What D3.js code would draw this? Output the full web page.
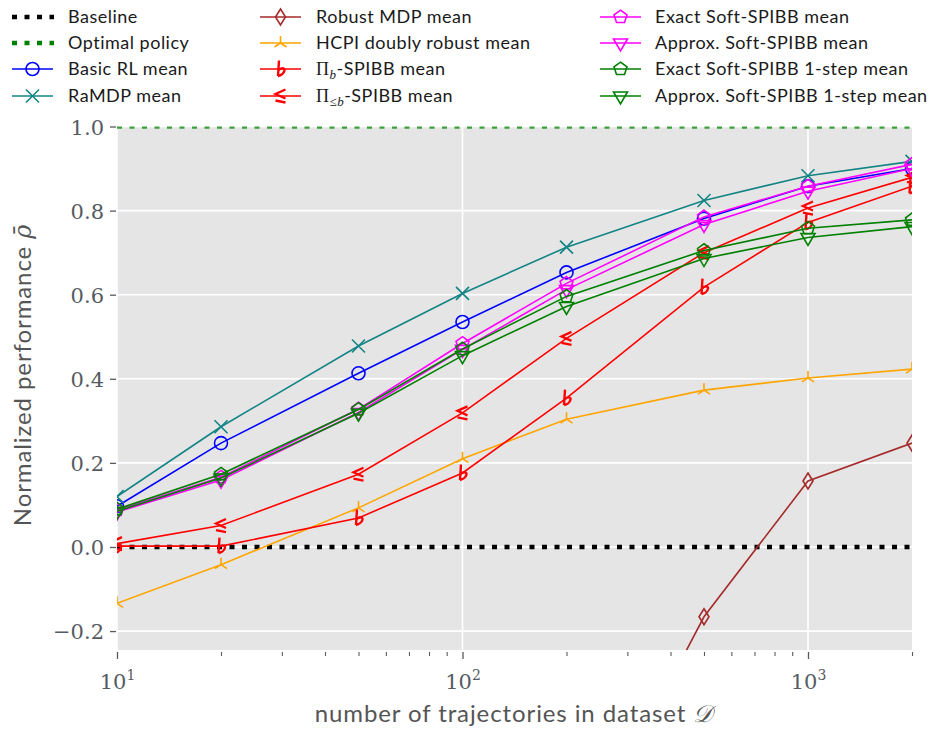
<!DOCTYPE html>
<html>
<head>
<meta charset="utf-8">
<script src="https://cdn.jsdelivr.net/npm/d3@7"></script>
<style>
  html, body { margin: 0; padding: 0; background: #ffffff; }
  svg { display: block; }
</style>
</head>
<body>
<svg id="chart" width="938" height="731"></svg>
<script>
// ---------------- data ----------------
const trajectories = [10, 20, 50, 100, 200, 500, 1000, 2000];
const baseline = [0, 0];
const optimal = [1, 1];
const basicRL    = [0.097, 0.247, 0.413, 0.535, 0.653, 0.781, 0.858, 0.900];
const raMDP      = [0.120, 0.286, 0.478, 0.603, 0.713, 0.824, 0.883, 0.917];
const robustMDP  = [null, null, null, null, -0.79, -0.166, 0.157, 0.247];
const hcpi       = [-0.134, -0.042, 0.093, 0.210, 0.304, 0.373, 0.402, 0.423];
const piB        = [0.002, 0.002, 0.069, 0.176, 0.354, 0.618, 0.772, 0.858];
const piLeqB     = [0.008, 0.051, 0.173, 0.319, 0.496, 0.700, 0.806, 0.879];
const exactSoft  = [0.088, 0.166, 0.328, 0.484, 0.627, 0.785, 0.858, 0.910];
const approxSoft = [0.083, 0.159, 0.320, 0.470, 0.612, 0.767, 0.846, 0.900];
const exact1     = [0.090, 0.173, 0.327, 0.471, 0.596, 0.705, 0.758, 0.778];
const approx1    = [0.085, 0.164, 0.318, 0.455, 0.572, 0.686, 0.736, 0.762];
const yTicks = [-0.2, 0.0, 0.2, 0.4, 0.6, 0.8, 1.0];
const xMajorTicks = [10, 100, 1000];
const xMinorTicks = [20, 30, 40, 50, 60, 70, 80, 90, 200, 300, 400, 500, 600, 700, 800, 900, 2000];

const series = [
  {name: "Basic RL mean",   values: basicRL,    color: "#0000ff", marker: "circle"},
  {name: "RaMDP mean",      values: raMDP,      color: "#138484", marker: "x"},
  {name: "Robust MDP mean", values: robustMDP,  color: "#a52a2a", marker: "thindiamond"},
  {name: "HCPI doubly robust mean", values: hcpi, color: "#ffa500", marker: "tri"},
  {name: "PIB",             values: piB,        color: "#ff0000", marker: "flat"},
  {name: "PILEQB",          values: piLeqB,     color: "#ff0000", marker: "leq"},
  {name: "Exact Soft-SPIBB mean",  values: exactSoft,  color: "#ff00ff", marker: "pentagon"},
  {name: "Approx. Soft-SPIBB mean", values: approxSoft, color: "#ff00ff", marker: "tridown"},
  {name: "Exact Soft-SPIBB 1-step mean",  values: exact1,  color: "#008000", marker: "pentagon"},
  {name: "Approx. Soft-SPIBB 1-step mean", values: approx1, color: "#008000", marker: "tridown"}
];

// ---------------- layout ----------------
const svg = d3.select("#chart");
const L = 117, R = 912, T = 126.5, B = 650;
const x = d3.scaleLog().domain([10, 2000]).range([L, R]);
const y = d3.scaleLinear().domain([-0.245, 1.0]).range([B, T]);
const tickColor = "#555b63";
const serif = "'DejaVu Serif', 'Liberation Serif', serif";
const sans = "Lato, 'Open Sans', sans-serif";

svg.append("rect").attr("x", L).attr("y", T).attr("width", R - L).attr("height", B - T).attr("fill", "#e5e5e5");

svg.append("defs").append("clipPath").attr("id", "clip")
  .append("rect").attr("x", L).attr("y", T).attr("width", R - L).attr("height", B - T);

// grid
const grid = svg.append("g");
grid.selectAll("line.gy").data(yTicks).join("line")
  .attr("x1", L).attr("x2", R).attr("y1", d => y(d)).attr("y2", d => y(d))
  .attr("stroke", "#ffffff").attr("stroke-width", 1.6);
grid.selectAll("line.gx").data(xMajorTicks).join("line")
  .attr("y1", T).attr("y2", B).attr("x1", d => x(d)).attr("x2", d => x(d))
  .attr("stroke", "#ffffff").attr("stroke-width", 1.6);

// axes (tick marks + labels)
const yAxis = d3.axisLeft(y).tickValues(yTicks).tickSize(6).tickPadding(6)
  .tickFormat(d => d < 0 ? "\u2212" + Math.abs(d).toFixed(1) : d.toFixed(1));
const gy = svg.append("g").attr("transform", `translate(${L - 1},0)`).call(yAxis);
gy.select(".domain").remove();
gy.selectAll(".tick line").attr("stroke", tickColor).attr("stroke-width", 1.3);
gy.selectAll(".tick text").attr("fill", tickColor)
  .style("font-family", serif).style("font-size", "21px")
  .attr("dy", "0.36em");

const xAxis = d3.axisBottom(x).tickValues(xMajorTicks).tickSize(7).tickFormat(() => "");
const gx = svg.append("g").attr("transform", `translate(0,${B + 2})`).call(xAxis);
gx.select(".domain").remove();
gx.selectAll(".tick line").attr("stroke", tickColor).attr("stroke-width", 1.3);
gx.selectAll(".tick text").remove();
gx.selectAll(".tick").append("text")
  .attr("y", 37).attr("fill", tickColor).attr("text-anchor", "middle")
  .style("font-family", serif).style("font-size", "21px")
  .each(function(d) {
    const t = d3.select(this);
    t.append("tspan").text("10");
    t.append("tspan").attr("dy", -9).style("font-size", "14px").text(String(Math.round(Math.log10(d))));
  });
const xMinor = d3.axisBottom(x).tickValues(xMinorTicks).tickSize(4).tickFormat(() => "");
const gxm = svg.append("g").attr("transform", `translate(0,${B + 2})`).call(xMinor);
gxm.select(".domain").remove();
gxm.selectAll(".tick line").attr("stroke", tickColor).attr("stroke-width", 1.1);

// axis labels
svg.append("text")
  .attr("transform", `translate(31,375) rotate(-90)`)
  .attr("text-anchor", "middle").attr("fill", "#555555")
  .style("font-family", sans).style("font-size", "24px").style("letter-spacing", "0.9px")
  .call(t => {
    t.append("tspan").text("Normalized performance ");
    t.append("tspan").style("font-family", serif).style("font-style", "italic").text("\u03C1\u0304");
  });
svg.append("text")
  .attr("x", 514).attr("y", 722)
  .attr("text-anchor", "middle").attr("fill", "#555555")
  .style("font-family", sans).style("font-size", "24px").style("letter-spacing", "0.9px")
  .call(t => {
    t.append("tspan").text("number of trajectories in dataset ");
    t.append("tspan").style("font-family", serif).style("font-style", "italic").text("\uD835\uDC9F");
  });

// ---------------- markers ----------------
function drawMarker(g, type, cx, cy, color) {
  const s = g.append("g").attr("transform", `translate(${cx},${cy})`);
  const st = (sel, w) => sel.attr("fill", "none").attr("stroke", color).attr("stroke-width", w || 1.6);
  if (type === "circle") {
    st(s.append("circle").attr("r", 6.5));
  } else if (type === "x") {
    st(s.append("path").attr("d", "M-6.5,-6.5L6.5,6.5M-6.5,6.5L6.5,-6.5"));
  } else if (type === "thindiamond") {
    st(s.append("path").attr("d", "M0,-8L5,0L0,8L-5,0Z"));
  } else if (type === "tri") {
    st(s.append("path").attr("d", "M0,0L0,-7M0,0L6,4M0,0L-6,4"));
  } else if (type === "pentagon") {
    const pts = d3.range(5).map(i => {
      const a = -Math.PI / 2 + i * 2 * Math.PI / 5;
      return [6.8 * Math.cos(a), 6.8 * Math.sin(a)];
    });
    st(s.append("path").attr("d", "M" + pts.join("L") + "Z"));
  } else if (type === "tridown") {
    st(s.append("path").attr("d", "M-7,-4L7,-4L0,8Z"));
  } else if (type === "flat") {
    st(s.append("path").attr("d", "M-1.5,-8.5L-2.5,7 M-2.2,1.5C0,-1.5 4.5,-1.5 4,1.5C3.5,4.5 0,6.5 -2.5,7"), 2.4);
  } else if (type === "leq") {
    st(s.append("path").attr("d", "M5,-6.5L-5,-2L5,2.5 M-5,4.5L5,6.5"), 2.3);
  }
}

// ---------------- plot ----------------
const plot = svg.append("g").attr("clip-path", "url(#clip)");
const line = d3.line().defined(d => d[1] !== null).x(d => x(d[0])).y(d => y(d[1]));

// baseline and optimal
const ends = [10, 2000];
plot.append("path").datum(ends.map((v, i) => [v, baseline[i]])).attr("d", line)
  .attr("fill", "none").attr("stroke", "#000000").attr("stroke-width", 4.5).attr("stroke-dasharray", "5,7.5");
plot.append("path").datum(ends.map((v, i) => [v, optimal[i]])).attr("d", line)
  .attr("fill", "none").attr("stroke", "#3a9f3a").attr("stroke-width", 4.5).attr("stroke-dasharray", "5,7.5");

series.forEach(s => {
  const pts = trajectories.map((t, i) => [t, s.values[i]]);
  plot.append("path").datum(pts).attr("d", line)
    .attr("fill", "none").attr("stroke", s.color).attr("stroke-width", 1.6);
  const mg = plot.append("g");
  pts.filter(p => p[1] !== null).forEach(p => drawMarker(mg, s.marker, x(p[0]), y(p[1]), s.color));
});

// ---------------- legend ----------------
const legendItems = [
  {col: 0, row: 0, kind: "dots", color: "#000000", label: ["Baseline"]},
  {col: 0, row: 1, kind: "dots", color: "#008000", label: ["Optimal policy"]},
  {col: 0, row: 2, s: 0, label: ["Basic RL mean"]},
  {col: 0, row: 3, s: 1, label: ["RaMDP mean"]},
  {col: 1, row: 0, s: 2, label: ["Robust MDP mean"]},
  {col: 1, row: 1, s: 3, label: ["HCPI doubly robust mean"]},
  {col: 1, row: 2, s: 4, label: "pib"},
  {col: 1, row: 3, s: 5, label: "pileqb"},
  {col: 2, row: 0, s: 6, label: ["Exact Soft-SPIBB mean"]},
  {col: 2, row: 1, s: 7, label: ["Approx. Soft-SPIBB mean"]},
  {col: 2, row: 2, s: 8, label: ["Exact Soft-SPIBB 1-step mean"]},
  {col: 2, row: 3, s: 9, label: ["Approx. Soft-SPIBB 1-step mean"]}
];
const colX = [12, 260, 600];
const textX = [68, 316, 655];
const rowY = [17, 43, 69, 96];
const lg = svg.append("g");
legendItems.forEach(it => {
  const x0 = colX[it.col], yy = rowY[it.row];
  if (it.kind === "dots") {
    lg.append("line").attr("x1", x0).attr("x2", x0 + 42).attr("y1", yy).attr("y2", yy)
      .attr("stroke", it.color).attr("stroke-width", 4.5).attr("stroke-dasharray", "5,7.5");
  } else {
    const s = series[it.s];
    lg.append("line").attr("x1", x0).attr("x2", x0 + 41).attr("y1", yy).attr("y2", yy)
      .attr("stroke", s.color).attr("stroke-width", 1.6);
    drawMarker(lg, s.marker, x0 + 20.5, yy, s.color);
  }
  const t = lg.append("text").attr("x", textX[it.col]).attr("y", yy + 6).attr("fill", "#1a1a1a")
    .style("font-family", sans).style("font-size", "18px").style("letter-spacing", "0.5px");
  if (it.label === "pib") {
    t.append("tspan").style("font-family", "'Liberation Serif', serif").text("\u03A0");
    t.append("tspan").attr("dy", 4).style("font-size", "13px").style("font-style", "italic")
      .style("font-family", "'Liberation Serif', serif").text("b");
    t.append("tspan").attr("dy", -4).text("-SPIBB mean");
  } else if (it.label === "pileqb") {
    t.append("tspan").style("font-family", "'Liberation Serif', serif").text("\u03A0");
    t.append("tspan").attr("dy", 4).style("font-size", "13px")
      .style("font-family", "'Liberation Serif', serif").text("\u2264");
    t.append("tspan").style("font-size", "13px").style("font-style", "italic")
      .style("font-family", "'Liberation Serif', serif").text("b");
    t.append("tspan").attr("dy", -4).text("-SPIBB mean");
  } else {
    t.text(it.label[0]);
  }
});
</script>
</body>
</html>
